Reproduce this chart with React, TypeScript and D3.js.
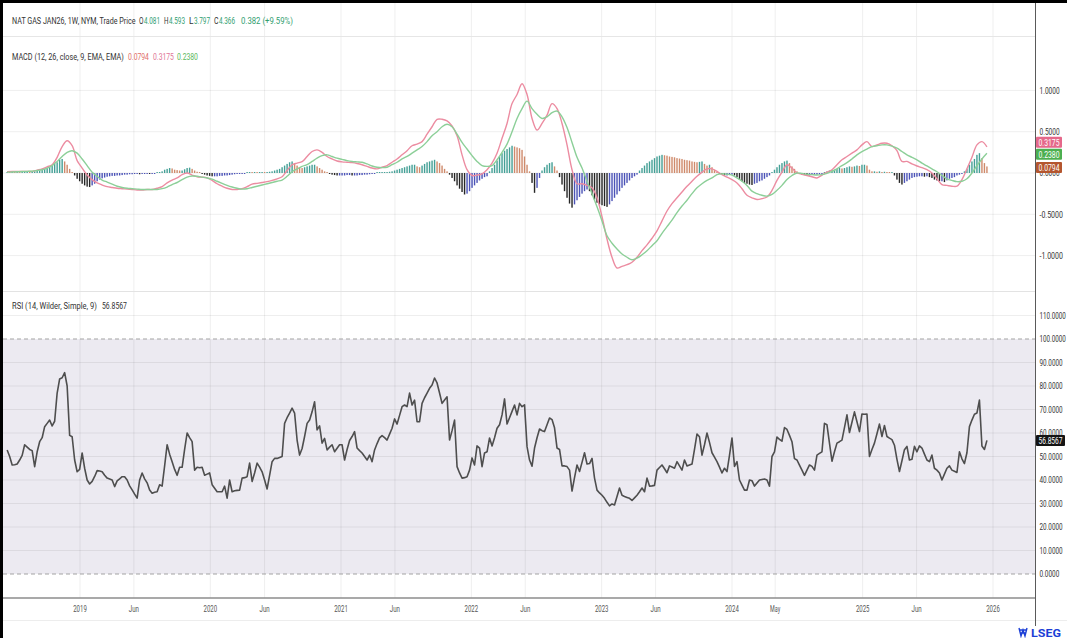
import React, { useEffect } from 'react';
import * as d3 from 'd3';

// ---------- DATA ----------
const START = Date.UTC(2018, 5, 11); // first weekly bar
const WEEK = 7 * 864e5;

// RSI (14) weekly
const rsi = [
  52.8, 50, 46.4, 46.5, 46.8, 48.5, 50.5, 55, 54, 53,
  52.5, 45.7, 52, 56.3, 58, 62.7, 64.1, 65.5, 63, 65,
  77, 83, 83.5, 85.7, 80, 59, 58.4, 48.5, 43.5, 44.5,
  51.5, 45, 40, 38.3, 39.4, 41.5, 44, 43.8, 43.5, 42,
  40.8, 40.4, 40, 37.2, 39.6, 40.5, 41.4, 41.4, 40, 37.5,
  35.8, 34, 32.3, 40, 43, 40.5, 38.8, 35.7, 34.4, 34.8,
  35, 38, 37.4, 46, 55, 51, 47.8, 44.5, 42, 45.4,
  45.4, 53, 60, 58, 56.3, 44.2, 45.4, 45.2, 45.4, 42,
  42.5, 43, 38, 36.5, 35, 35, 35, 37.4, 32.3, 40,
  35, 35.4, 35.6, 35.7, 40.8, 41, 41.4, 47.2, 39.4, 43,
  47.2, 45.5, 43.5, 40, 36.2, 42, 47.8, 49.2, 49.2, 49.6,
  50, 64.1, 66.5, 68.5, 70.6, 68.5, 57, 50.6, 53.4, 58.5,
  64.1, 65.5, 69, 73.3, 61.3, 63, 55.7, 57.7, 52.8, 54,
  55, 52, 53.5, 55, 55, 48.5, 53, 56.8, 58.5, 60.6,
  53.6, 52.5, 51.5, 50, 48.5, 50.6, 47.8, 52.8, 55.5, 57.9,
  58.9, 58, 57, 59.5, 62, 66, 63.8, 67.5, 71.2, 71.9,
  71.2, 77, 71.9, 74, 64.8, 64.8, 72.6, 75, 77, 79,
  80.4, 83.4, 81.3, 77, 72.6, 74, 75.4, 57, 61, 65.5,
  45.7, 43, 40.8, 41, 41.4, 44.2, 49.4, 46.4, 54.5, 53.6,
  45.7, 51.5, 52, 57.9, 54.5, 58, 62, 63.5, 67.7, 74.5,
  63.8, 66.5, 69.2, 71.9, 67.7, 72.6, 71.2, 72, 54.2, 48.5,
  45.9, 53.6, 58, 61.7, 61, 60.6, 63.5, 66.4, 65.7, 62.2,
  53.6, 53, 46, 46, 45.7, 44.2, 35.3, 41, 46.4, 43.6,
  47.5, 51.6, 46.8, 47, 49.2, 40.8, 35.7, 34.5, 33.5, 32.2,
  30.5, 29, 29.8, 29.4, 33, 36.6, 33.5, 33, 32.6, 32.2,
  31.3, 32.4, 33.5, 35, 36.6, 35, 40.8, 37.4, 37.5, 37.7,
  44.2, 45.3, 46.4, 44.8, 43.1, 46, 45.5, 45, 47.8, 46,
  44.2, 48.5, 46, 46.4, 46.8, 53, 59.6, 58.4, 50.6, 55,
  60, 56, 51.6, 49.7, 47.8, 45.5, 43, 45, 43.6, 50.5,
  57.9, 45.8, 47.8, 40, 37.8, 35.7, 35.7, 40, 39.7, 37.4,
  38.7, 40, 40.2, 40.4, 40, 37.4, 50, 52, 58.3, 57.3,
  56.5, 62.3, 61.5, 59, 56.3, 49.1, 48.5, 46.3, 44.2, 42,
  44.2, 46.4, 45.8, 44.2, 50.6, 51.3, 52, 64.1, 63.5, 55.7,
  48, 52, 55.7, 56.3, 57, 62.3, 67.7, 60.2, 64.6, 69,
  64.8, 60.6, 68.1, 68, 68.1, 50, 53, 55.7, 59.7, 63.8,
  58.5, 63.2, 58.5, 57.8, 57.2, 54.8, 48.8, 43.6, 48.2, 52.9,
  54.3, 48.5, 48.8, 54.3, 52, 54.5, 53.6, 51, 48.5, 47.8,
  50.6, 45, 44.2, 43, 40, 42.5, 45, 46, 44.2, 43.7,
  43.2, 52, 49, 47, 51.6, 62.7, 65.5, 68, 68.5, 74,
  54.5, 53, 56.8567,
];

// MACD histogram weekly
const hist = [
  0.01, 0.005, 0.01, 0.005, 0.01, 0.005, 0.01, 0.01, 0.015, 0.01,
  0.015, 0.02, 0.025, 0.03, 0.04, 0.05, 0.06, 0.07, 0.09, 0.11,
  0.13, 0.16, 0.17, 0.14, 0.1, 0.05, 0.01, -0.03, -0.07, -0.1,
  -0.13, -0.15, -0.165, -0.17, -0.15, -0.13, -0.1, -0.08, -0.065, -0.055,
  -0.045, -0.04, -0.035, -0.035, -0.03, -0.03, -0.025, -0.02, -0.02, -0.015,
  -0.015, -0.01, -0.01, -0.015, -0.01, -0.01, -0.005, -0.01, -0.005, -0.005,
  0.005, 0.01, 0.02, 0.04, 0.05, 0.06, 0.055, 0.04, 0.035, 0.03,
  0.03, 0.045, 0.06, 0.065, 0.05, 0.03, 0.015, 0.005, -0.01, -0.02,
  -0.03, -0.035, -0.04, -0.04, -0.04, -0.035, -0.035, -0.03, -0.03, -0.025,
  -0.02, -0.015, -0.01, -0.01, -0.005, -0.005, 0.005, 0.01, 0.005, 0.01,
  0.005, 0.01, 0.01, 0.005, 0.01, 0.015, 0.02, 0.03, 0.04, 0.05,
  0.07, 0.09, 0.11, 0.13, 0.14, 0.12, 0.09, 0.07, 0.06, 0.07,
  0.08, 0.09, 0.1, 0.1, 0.08, 0.06, 0.04, 0.02, 0.005, -0.01,
  -0.02, -0.025, -0.03, -0.03, -0.03, -0.03, -0.025, -0.025, -0.03, -0.03,
  -0.03, -0.025, -0.025, -0.02, -0.02, -0.015, -0.01, -0.005, 0.005, 0.005,
  0.01, 0.01, 0.01, 0.015, 0.02, 0.03, 0.04, 0.05, 0.06, 0.07,
  0.08, 0.09, 0.1, 0.1, 0.08, 0.07, 0.09, 0.11, 0.13, 0.14,
  0.15, 0.16, 0.14, 0.12, 0.09, 0.05, 0.02, -0.02, -0.06, -0.1,
  -0.15, -0.19, -0.23, -0.26, -0.25, -0.22, -0.18, -0.15, -0.12, -0.09,
  -0.07, -0.05, -0.04, 0.02, 0.06, 0.1, 0.15, 0.2, 0.24, 0.27,
  0.29, 0.31, 0.33, 0.32, 0.31, 0.3, 0.28, 0.2, 0.1, 0.02,
  -0.12, -0.24, -0.18, -0.06, 0.03, 0.07, 0.1, 0.12, 0.13, 0.08,
  0.03, -0.05, -0.14, -0.22, -0.3, -0.37, -0.42, -0.38, -0.33, -0.29,
  -0.25, -0.22, -0.2, -0.22, -0.27, -0.32, -0.36, -0.38, -0.39, -0.4,
  -0.41, -0.38, -0.34, -0.3, -0.26, -0.22, -0.18, -0.15, -0.12, -0.09,
  -0.06, -0.04, -0.02, 0.03, 0.06, 0.09, 0.12, 0.14, 0.16, 0.18,
  0.2, 0.21, 0.22, 0.215, 0.21, 0.2, 0.195, 0.19, 0.18, 0.175,
  0.17, 0.16, 0.155, 0.15, 0.14, 0.135, 0.13, 0.135, 0.14, 0.11,
  0.09, 0.1, 0.07, 0.04, 0.01, -0.01, -0.02, -0.03, -0.03, -0.025,
  -0.02, -0.03, -0.05, -0.08, -0.1, -0.12, -0.13, -0.14, -0.145, -0.13,
  -0.12, -0.1, -0.09, -0.07, -0.05, -0.03, 0.01, 0.04, 0.07, 0.1,
  0.12, 0.14, 0.15, 0.12, 0.08, 0.05, 0.02, -0.01, -0.02, -0.025,
  -0.03, -0.03, -0.025, -0.02, -0.02, -0.015, -0.01, 0.005, 0.02, 0.03,
  0.035, 0.04, 0.05, 0.06, 0.055, 0.06, 0.07, 0.08, 0.075, 0.08,
  0.09, 0.085, 0.1, 0.1, 0.09, 0.04, 0.02, 0.02, 0.015, 0.02,
  0.01, 0.015, 0.01, 0.005, 0.005, -0.03, -0.08, -0.12, -0.14, -0.12,
  -0.1, -0.08, -0.06, -0.05, -0.045, -0.04, -0.04, -0.045, -0.04, -0.05,
  -0.06, -0.08, -0.09, -0.1, -0.1, -0.11, -0.09, -0.07, -0.06, -0.05,
  -0.03, -0.02, -0.005, 0.02, 0.05, 0.1, 0.14, 0.17, 0.22, 0.24,
  0.18, 0.12, 0.0794,
];

// MACD line, every 2 weeks
const macdLine = [
  0.016, 0.018, 0.018, 0.02, 0.02, 0.02, 0.035, 0.05, 0.075, 0.1,
  0.19, 0.32, 0.39, 0.33, 0.15, 0.06, -0.025, -0.08, -0.12, -0.145,
  -0.165, -0.175, -0.185, -0.19, -0.195, -0.2, -0.205, -0.205, -0.2, -0.2,
  -0.185, -0.165, -0.12, -0.085, -0.06, -0.02, 0, -0.025, -0.045, -0.05,
  -0.06, -0.09, -0.13, -0.16, -0.185, -0.2, -0.2, -0.19, -0.165, -0.135,
  -0.125, -0.115, -0.105, -0.09, -0.07, -0.045, 0.03, 0.1, 0.12, 0.137,
  0.2, 0.26, 0.28, 0.25, 0.2, 0.17, 0.145, 0.135, 0.13, 0.125,
  0.115, 0.1, 0.08, 0.06, 0.05, 0.07, 0.09, 0.13, 0.17, 0.22,
  0.27, 0.33, 0.35, 0.38, 0.47, 0.56, 0.65, 0.65, 0.63, 0.57,
  0.45, 0.22, 0.04, -0.03, -0.025, -0.01, 0.04, 0.12, 0.24, 0.42,
  0.6, 0.84, 0.95, 1.08, 0.95, 0.66, 0.52, 0.6, 0.7, 0.84,
  0.78, 0.6, 0.34, 0.04, -0.13, -0.13, -0.15, -0.18, -0.3, -0.53,
  -0.8, -1.02, -1.15, -1.13, -1.11, -1.08, -1.02, -0.94, -0.87, -0.79,
  -0.7, -0.58, -0.46, -0.37, -0.3, -0.23, -0.16, -0.1, -0.04, 0.01,
  0.05, 0.05, 0.02, -0.02, -0.05, -0.08, -0.12, -0.19, -0.27, -0.3,
  -0.32, -0.31, -0.29, -0.21, -0.09, 0.01, 0.1, 0.06, 0, -0.015,
  -0.03, -0.045, -0.06, -0.025, 0.01, 0.04, 0.1, 0.16, 0.2, 0.24,
  0.28, 0.34, 0.38, 0.32, 0.34, 0.36, 0.36, 0.33, 0.27, 0.14,
  0.14, 0.11, 0.085, 0.065, 0.04, 0, -0.07, -0.14, -0.15, -0.16,
  -0.16, -0.08, 0.05, 0.19, 0.34, 0.38, 0.3175,
];

// Signal line, every 2 weeks
const signalLine = [
  0.01, 0.012, 0.015, 0.018, 0.02, 0.022, 0.03, 0.04, 0.06, 0.09,
  0.14, 0.2, 0.25, 0.27, 0.24, 0.17, 0.09, 0.01, -0.04, -0.085,
  -0.11, -0.135, -0.16, -0.175, -0.185, -0.19, -0.195, -0.2, -0.2, -0.2,
  -0.2, -0.19, -0.17, -0.14, -0.115, -0.08, -0.05, -0.036, -0.04, -0.05,
  -0.06, -0.075, -0.1, -0.125, -0.15, -0.17, -0.185, -0.195, -0.19, -0.175,
  -0.16, -0.145, -0.13, -0.115, -0.1, -0.085, -0.04, 0.015, 0.05, 0.08,
  0.1, 0.14, 0.18, 0.21, 0.22, 0.2, 0.18, 0.165, 0.15, 0.14,
  0.135, 0.13, 0.11, 0.085, 0.07, 0.065, 0.07, 0.1, 0.13, 0.17,
  0.2, 0.24, 0.28, 0.32, 0.38, 0.45, 0.5, 0.56, 0.59, 0.56,
  0.47, 0.37, 0.29, 0.21, 0.14, 0.09, 0.08, 0.09, 0.16, 0.25,
  0.35, 0.5, 0.66, 0.78, 0.87, 0.78, 0.71, 0.66, 0.68, 0.73,
  0.75, 0.68, 0.55, 0.37, 0.19, 0.06, -0.1, -0.25, -0.41, -0.58,
  -0.76, -0.85, -0.92, -0.98, -1.02, -1.05, -1.03, -0.99, -0.94, -0.88,
  -0.82, -0.73, -0.65, -0.57, -0.48, -0.4, -0.33, -0.25, -0.18, -0.13,
  -0.09, -0.06, -0.02, -0.01, -0.015, -0.025, -0.06, -0.1, -0.15, -0.22,
  -0.25, -0.27, -0.28, -0.26, -0.21, -0.15, -0.08, -0.03, 0, -0.005,
  -0.015, -0.02, -0.025, -0.02, -0.005, 0.02, 0.05, 0.09, 0.125, 0.17,
  0.22, 0.26, 0.29, 0.32, 0.33, 0.34, 0.34, 0.325, 0.3, 0.26,
  0.22, 0.19, 0.16, 0.12, 0.085, 0.05, 0.015, -0.03, -0.07, -0.09,
  -0.105, -0.1, -0.07, 0.0, 0.09, 0.17, 0.238,
];

const lastMacd = 0.3175;
const lastSignal = 0.238;
const lastHist = 0.0794;
const lastRsi = 56.8567;

const tickDates = [
  '2019-01-01', '2019-06-01', '2020-01-01', '2020-06-01', '2021-01-01', '2021-06-01',
  '2022-01-01', '2022-06-01', '2023-01-01', '2023-06-01', '2024-01-01', '2024-05-01',
  '2025-01-01', '2025-06-01', '2026-01-01',
];
const tickLabels = ['2019', 'Jun', '2020', 'Jun', '2021', 'Jun', '2022', 'Jun', '2023', 'Jun', '2024', 'May', '2025', 'Jun', '2026'];
const macdTicks = [1, 0.5, 0, -0.5, -1];
const rsiTicks = [110, 100, 90, 80, 70, 60, 50, 40, 30, 20, 10, 0];
const rsiGrid = [110, 90, 80, 70, 60, 50, 40, 30, 20, 10];

const headerSymbol = 'NAT GAS JAN26, 1W, NYM, Trade Price';
const headerOHLC = [
  ['O', '4.081'], ['H', '4.593'], ['L', '3.797'], ['C', '4.366'],
];
const headerChange = '0.382 (+9.59%)';
const macdTitle = 'MACD (12, 26, close, 9, EMA, EMA)';
const rsiTitle = 'RSI (14, Wilder, Simple, 9)';

// ---------- LAYOUT / STYLE ----------
const W = 1067, H = 638;
const PL = 3, PR = 1035;
const FONT = "Roboto, 'Noto Sans', 'DejaVu Sans', sans-serif";
const C = {
  text: '#333333',
  grid: 'rgba(0,0,0,0.065)',
  band: '#eceaf1',
  macd: '#ec8ca1',
  signal: '#8ccf98',
  rsi: '#4e4e4e',
  up: '#44a096',
  upFall: '#cf8a6b',
  dnFall: '#262626',
  dnRise: '#4b53b7',
  green: '#2f9e6f',
  boxMacd: '#e5688a',
  boxSig: '#4caf50',
  boxHist: '#b4562f',
};

const x = d3.scaleUtc().domain([Date.UTC(2019, 0, 1), Date.UTC(2026, 0, 1)]).range([80, 993]);
const yM = d3.scaleLinear().domain([-1, 1]).range([255.6, 90.4]);
const yR = d3.scaleLinear().domain([0, 100]).range([574, 339]);
const weekDate = (i: number) => new Date(START + i * WEEK);
const parseDate = (s: string) => {
  const [a, b, c] = s.split('-').map(Number);
  return new Date(Date.UTC(a, b - 1, c));
};

let _ctx: CanvasRenderingContext2D | null = null;
function measure(text: string, size: number, weight: number) {
  if (!_ctx) _ctx = document.createElement('canvas').getContext('2d');
  if (!_ctx) return text.length * size * 0.55;
  _ctx.font = `${weight} ${size}px Roboto, 'Noto Sans', sans-serif`;
  return _ctx.measureText(text).width || text.length * size * 0.55;
}

// text squeezed horizontally to a target width (the reference uses a narrow face)
function T(props: any) {
  const { x, y, w, size = 9, fill = C.text, anchor = 'start', weight = 400, children } = props;
  const s = String(children);
  const sx = w ? w / measure(s, size, weight) : 1;
  return (
    <text transform={`translate(${x},${y}) scale(${sx},1)`} fontSize={size} fill={fill}
      textAnchor={anchor} fontWeight={weight} fontFamily={FONT} style={{ whiteSpace: 'pre' }}>
      {s}
    </text>
  );
}

const fmt = (v: number) => v.toFixed(4);

export default function App() {
  useEffect(() => {
    document.body.style.margin = '0';
  }, []);

  const y0 = yM(0);
  const macdPath = d3.line<number>()
    .x((_, k) => x(weekDate(k * 2)))
    .y(v => yM(v))
    .curve(d3.curveCatmullRom.alpha(0.5))(macdLine) || '';
  const sigPath = d3.line<number>()
    .x((_, k) => x(weekDate(k * 2)))
    .y(v => yM(v))
    .curve(d3.curveCatmullRom.alpha(0.5))(signalLine) || '';
  const rsiPath = d3.line<number>()
    .x((_, i) => x(weekDate(i)))
    .y(v => yR(v))(rsi) || '';

  // right-axis value labels (stacked bottom-up to avoid overlap)
  const boxes = [
    { v: lastHist, color: C.boxHist },
    { v: lastSignal, color: C.boxSig },
    { v: lastMacd, color: C.boxMacd },
  ].map(b => ({ ...b, y: yM(b.v) }));
  boxes.sort((a, b) => b.y - a.y);
  let prevY = Infinity;
  const boxPos = boxes.map(b => {
    const y = Math.min(b.y + 1, prevY - 12);
    prevY = y;
    return { ...b, py: y };
  });

  const ticks = tickDates.map(parseDate);

  // header layout (x positions measured on the reference)
  const ohlcX = [139, 164, 189, 214];

  return (
    <svg width={W} height={H} style={{ position: 'absolute', left: 0, top: 0, background: '#fff', display: 'block' }}>
      <defs>
        <clipPath id="clipM"><rect x={PL} y={37} width={PR - PL} height={254} /></clipPath>
        <clipPath id="clipR"><rect x={PL} y={292} width={PR - PL} height={306} /></clipPath>
      </defs>
      <rect x={0} y={0} width={W} height={H} fill="#fff" />

      {/* RSI band */}
      <rect x={PL} y={yR(100)} width={PR - PL} height={yR(0) - yR(100)} fill={C.band} />

      {/* vertical grid */}
      {ticks.map((d, i) => (
        <line key={'vg' + i} x1={x(d)} x2={x(d)} y1={3} y2={598} stroke={C.grid} />
      ))}
      {/* MACD horizontal grid */}
      {macdTicks.map(t => (
        <line key={'mg' + t} x1={PL} x2={PR} y1={yM(t)} y2={yM(t)} stroke={C.grid} />
      ))}
      {/* RSI horizontal grid */}
      {rsiGrid.map(t => (
        <line key={'rg' + t} x1={PL} x2={PR} y1={yR(t)} y2={yR(t)} stroke={C.grid} />
      ))}
      {[100, 0].map(t => (
        <line key={'rd' + t} x1={PL} x2={PR} y1={yR(t)} y2={yR(t)} stroke="#a3a3a3" strokeDasharray="4,3" />
      ))}

      {/* pane separators */}
      <line x1={PL} x2={PR} y1={36.5} y2={36.5} stroke="#e6e6e6" />
      <line x1={PL} x2={PR} y1={291.5} y2={291.5} stroke="#e3e3e3" />

      {/* MACD histogram */}
      <g clipPath="url(#clipM)">
        {hist.map((v, i) => {
          const prev = i > 0 ? hist[i - 1] : v;
          const col = v >= 0 ? (v >= prev ? C.up : C.upFall) : (v < prev ? C.dnFall : C.dnRise);
          const yv = yM(v);
          const h = Math.max(1, Math.abs(yv - y0));
          return (
            <rect key={'h' + i} x={x(weekDate(i)) - 0.7} width={1.4}
              y={v >= 0 ? y0 - h : y0} height={h} fill={col} />
          );
        })}
        <path d={macdPath} fill="none" stroke={C.macd} strokeWidth={1.4} />
        <path d={sigPath} fill="none" stroke={C.signal} strokeWidth={1.4} />
      </g>

      {/* RSI line */}
      <g clipPath="url(#clipR)">
        <path d={rsiPath} fill="none" stroke={C.rsi} strokeWidth={1.6} strokeLinejoin="round" />
      </g>

      {/* x axis */}
      <line x1={PL} x2={PR} y1={598} y2={598} stroke="#8c8c8c" strokeWidth={1.6} />
      <line x1={PL} x2={W} y1={620.5} y2={620.5} stroke="#ededed" />
      {ticks.map((d, i) => (
        <T key={'xl' + i} x={x(d)} y={611.5} w={tickLabels[i].length * 3.4} size={8.5} anchor="middle" fill="#555">
          {tickLabels[i]}
        </T>
      ))}

      {/* right axis */}
      <line x1={PR + 0.5} x2={PR + 0.5} y1={3} y2={626} stroke="#5a5a5a" />
      {macdTicks.map(t => (
        <T key={'ml' + t} x={1039.5} y={yM(t) + 3.2} w={fmt(t).length * 3.35} size={8.5}>{fmt(t)}</T>
      ))}
      {rsiTicks.map(t => (
        <T key={'rl' + t} x={1039.5} y={yR(t) + 3.2} w={fmt(t).length * 3.3} size={8.5}>{fmt(t)}</T>
      ))}
      {boxPos.map((b, i) => (
        <g key={'bx' + i}>
          <rect x={1036} y={b.py - 5.5} width={26} height={11} fill={b.color} rx={1} />
          <T x={1049} y={b.py + 3.2} w={21} size={8.5} anchor="middle" fill="#fff">{fmt(b.v)}</T>
        </g>
      ))}
      <rect x={1036} y={yR(lastRsi) - 5.5} width={29} height={11} fill="#141414" rx={1} />
      <T x={1050.5} y={yR(lastRsi) + 3.2} w={24} size={8.5} anchor="middle" fill="#fff">{fmt(lastRsi)}</T>

      {/* legends */}
      <T x={12} y={23.5} w={124} size={9}>{headerSymbol}</T>
      {headerOHLC.map(([k, v], i) => (
        <g key={k}>
          <T x={ohlcX[i]} y={23.5} w={4.5} size={9}>{k}</T>
          <T x={ohlcX[i] + 5} y={23.5} w={16} size={9} fill={C.green}>{v}</T>
        </g>
      ))}
      <T x={241} y={23.5} w={52} size={9} fill={C.green}>{headerChange}</T>

      <T x={12} y={59.5} w={112} size={9}>{macdTitle}</T>
      <T x={128} y={59.5} w={21} size={9} fill="#df6f6a">{lastHist.toFixed(4)}</T>
      <T x={153} y={59.5} w={21} size={9} fill="#e07595">{lastMacd.toFixed(4)}</T>
      <T x={177} y={59.5} w={21} size={9} fill="#5cb85c">{lastSignal.toFixed(4)}</T>

      <T x={12} y={308.5} w={85} size={9}>{rsiTitle}</T>
      <T x={102} y={308.5} w={25} size={9}>{lastRsi.toFixed(4)}</T>

      {/* frame */}
      <rect x={0} y={0} width={3} height={H} fill="#000" />
      <rect x={0} y={0} width={W} height={3} fill="#000" />

      {/* logo */}
      <path d="M1019,628 l2,8 l2,-6 l2,6 l2,-8 M1019,630 h8 M1020,633 h6" stroke="#1c3fd6" strokeWidth={1.4} fill="none" />
      <T x={1031} y={637} w={30} size={10} weight={700} fill="#1c3fd6">LSEG</T>
    </svg>
  );
}
